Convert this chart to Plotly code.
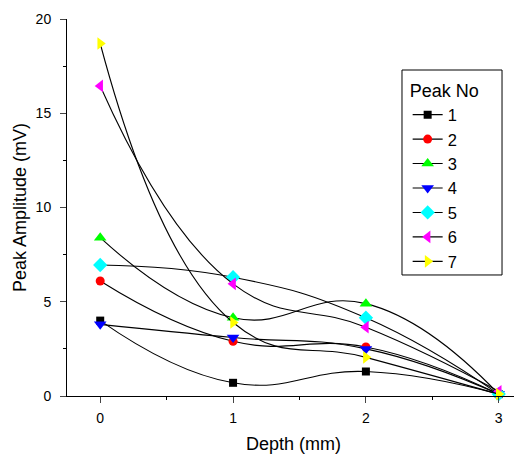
import plotly.graph_objects as go

depth = [0, 1, 2, 3]
peak_names = ["1", "2", "3", "4", "5", "6", "7"]
p1 = [4.0, 0.7, 1.3, 0.1]
p2 = [6.1, 2.9, 2.6, 0.1]
p3 = [8.4, 4.15, 4.9, 0.1]
p4 = [3.8, 3.1, 2.5, 0.1]
p5 = [6.95, 6.3, 4.15, 0.1]
p6 = [16.45, 5.95, 3.65, 0.25]
p7 = [18.7, 3.9, 2.05, 0.1]

series = [p1, p2, p3, p4, p5, p6, p7]
colors = ["#000000", "#FF0000", "#00FF00", "#0000FF", "#00FFFF", "#FF00FF", "#FFFF00"]
symbols = ["square", "circle", "triangle-up", "triangle-down", "diamond", "triangle-left", "triangle-right"]
sizes = [8, 9, 11, 11, 11, 11, 11]

fig = go.Figure()
for name, vals, c, s, sz in zip(peak_names, series, colors, symbols, sizes):
    fig.add_trace(go.Scatter(
        x=depth, y=vals, name=name, mode="lines+markers",
        line=dict(color="black", width=1.1, shape="spline", smoothing=1.3),
        marker=dict(color=c, symbol=s, size=sz, line=dict(width=0)),
        cliponaxis=False,
    ))

# legend frame drawn as a paper-anchored box
fig.add_shape(type="rect", xref="paper", yref="paper",
              x0=0.7395, x1=0.9603, y0=0.321, y1=0.8647,
              line=dict(color="black", width=1), fillcolor="white", layer="above")

# page body has an 8px offset; size/margins compensate so the figure fills the window
fig.update_layout(
    width=514, height=446,
    margin=dict(l=59, r=2, t=11, b=58),
    paper_bgcolor="white", plot_bgcolor="white",
    font=dict(family="Liberation Sans, Arial", size=14, color="black"),
    showlegend=True,
    legend=dict(
        title=dict(text="Peak No", font=dict(size=18)),
        font=dict(size=16.5),
        x=0.752, y=0.854, xanchor="left", yanchor="top",
        borderwidth=0, bgcolor="rgba(0,0,0,0)",
    ),
    xaxis=dict(
        range=[-0.25, 3.16], tickvals=[0, 1, 2, 3], ticks="outside", ticklen=6,
        ticklabelstandoff=3,
        showline=True, linecolor="black", linewidth=1, showgrid=False, zeroline=False,
        automargin=False,
        minor=dict(tickvals=[0.5, 1.5, 2.5], ticks="outside", ticklen=3, tickcolor="black"),
        title=dict(text="Depth (mm)", font=dict(size=18), standoff=14),
    ),
    yaxis=dict(
        range=[0, 20], tickvals=[0, 5, 10, 15, 20], ticks="outside", ticklen=6,
        ticklabelstandoff=6,
        showline=True, linecolor="black", linewidth=1, showgrid=False, zeroline=False,
        automargin=False,
        minor=dict(tickvals=[2.5, 7.5, 12.5, 17.5], ticks="outside", ticklen=3, tickcolor="black"),
        title=dict(text="Peak Amplitude (mV)", font=dict(size=18), standoff=4),
    ),
)

fig.write_html("out.html")
